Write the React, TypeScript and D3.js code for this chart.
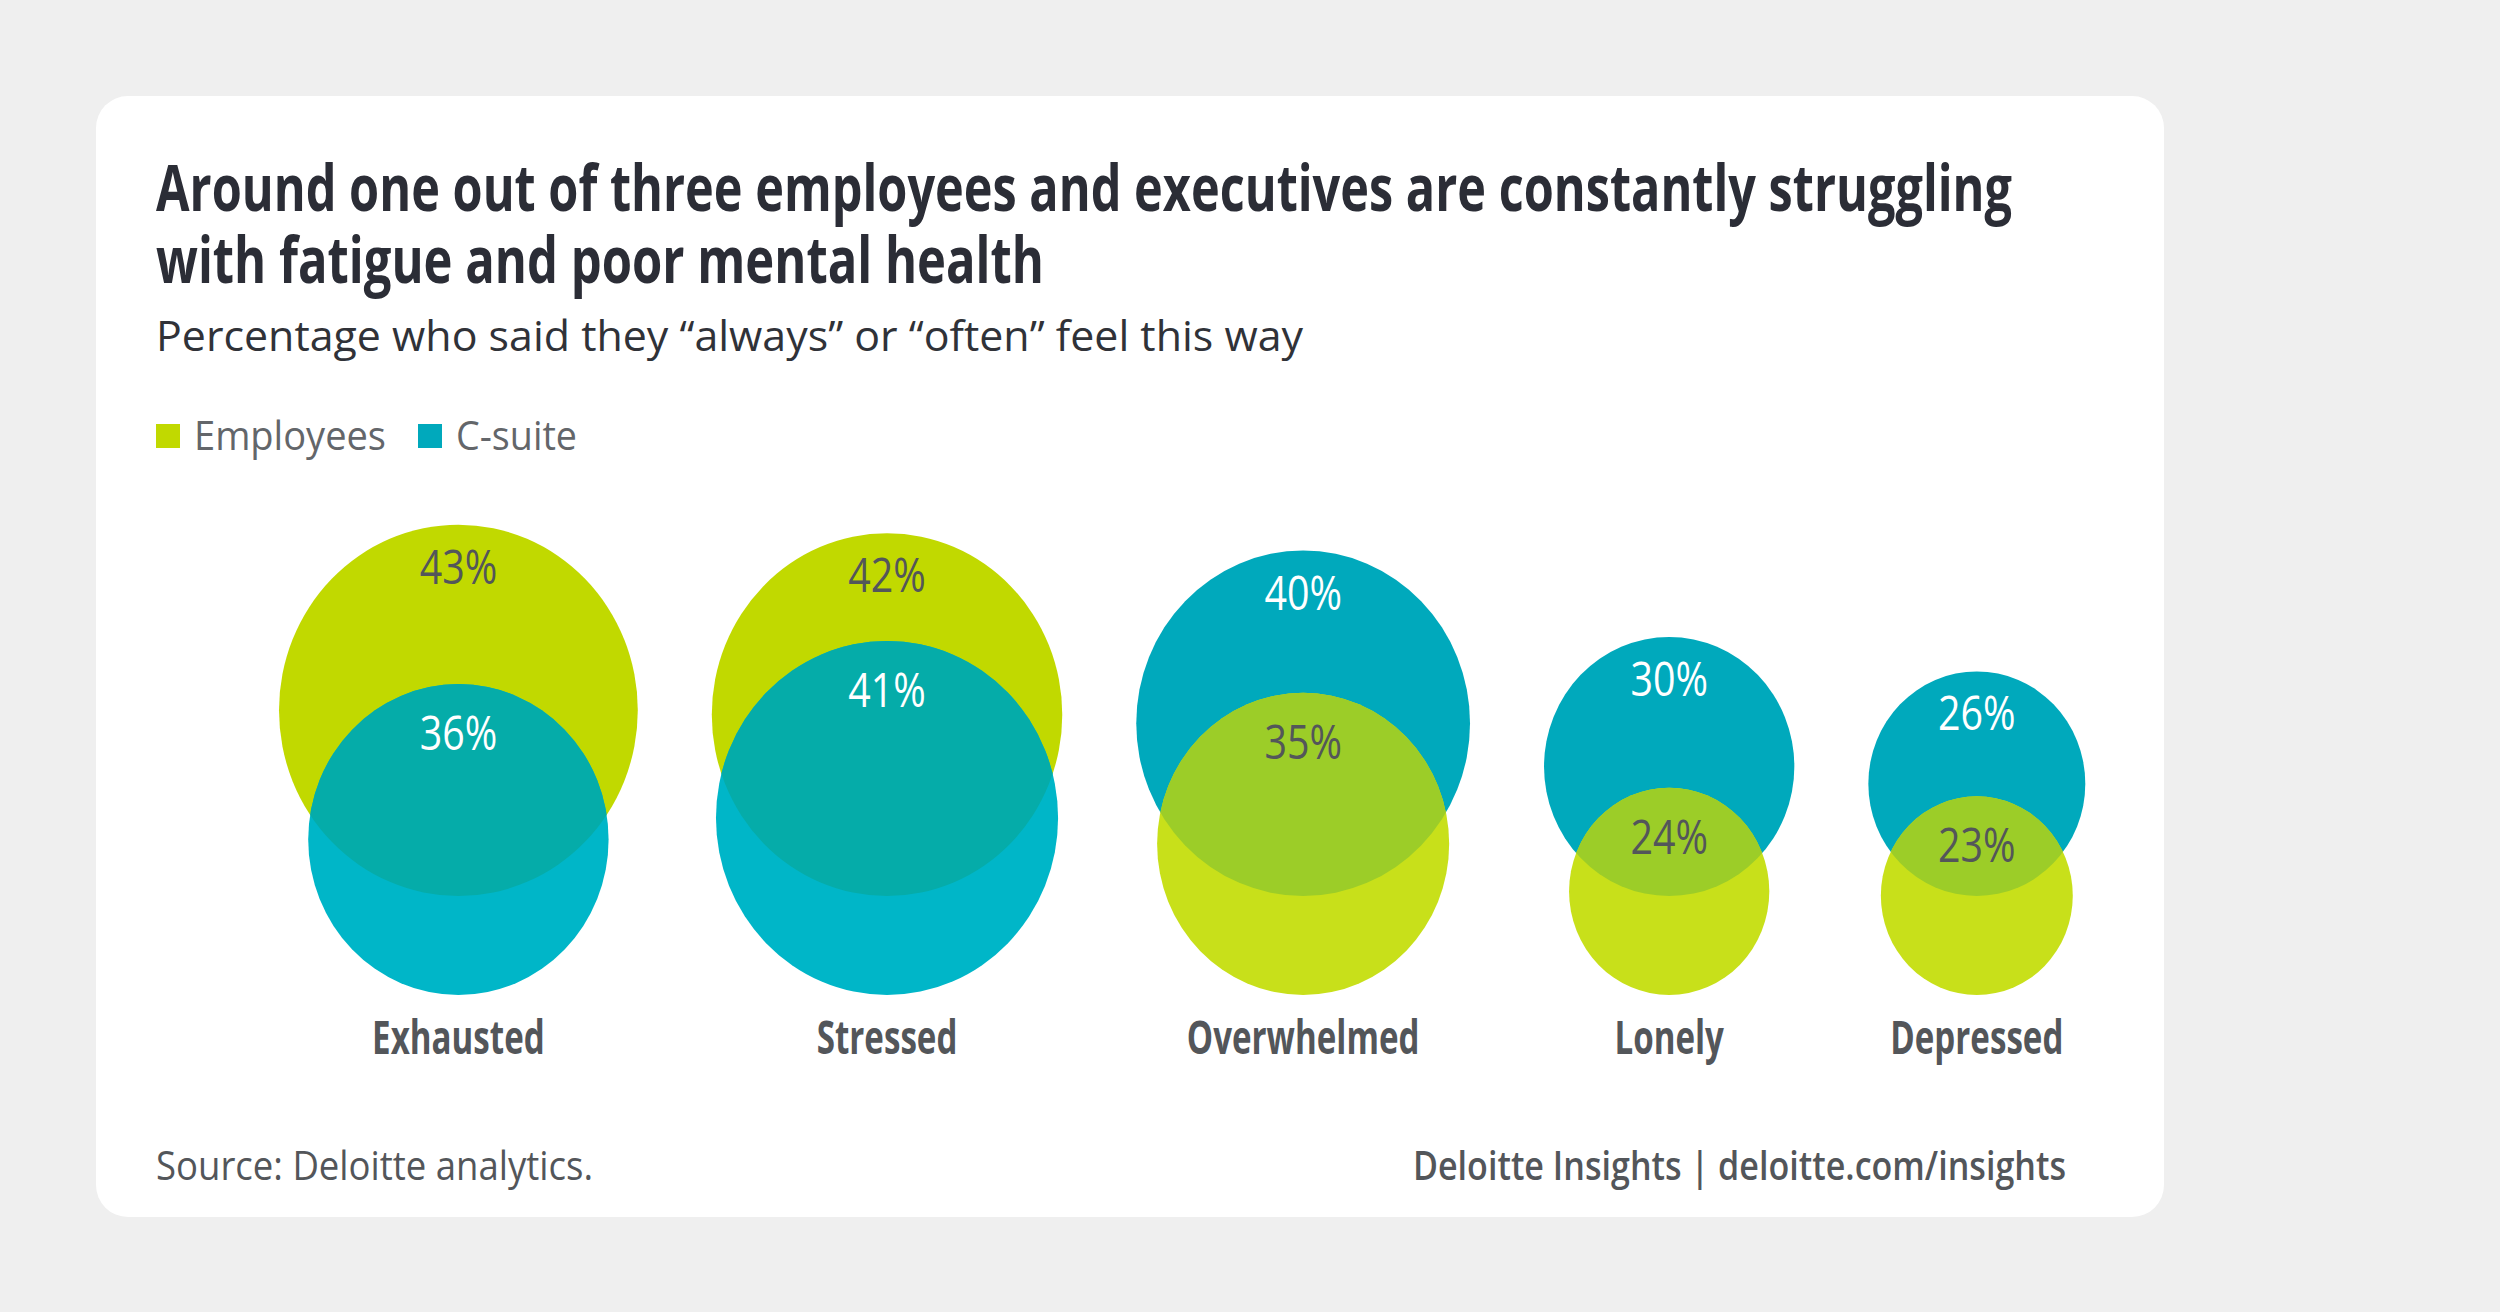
import React from 'react';
import * as d3 from 'd3';

// Data
const categories = ['Exhausted', 'Stressed', 'Overwhelmed', 'Lonely', 'Depressed'];
const employees = [43, 42, 35, 24, 23];
const csuite = [36, 41, 40, 30, 26];
const seriesNames = ['Employees', 'C-suite'];

const W = 2500;
const H = 1312;
const FONT = '"Open Sans", "Noto Sans", sans-serif';

const colors = {
  emp: { top: '#c1d900', bottom: '#c8e01a', legend: '#c1d900' },
  cs: { top: '#00a9bc', bottom: '#00b6c8', legend: '#00a9bc' },
  overlapCsOverEmp: '#05aca9',
  overlapEmpOverCs: '#9ccd28',
};

const textDark = '#2b2d36';
const textGrey = '#53565a';

export default function App() {
  const maxVal = d3.max([...employees, ...csuite]) as number;
  const r = d3.scaleLinear().domain([0, maxVal]).range([0, 179.4]);
  const yStretch = 1.035;
  const startX = 279;
  const gap = 74;
  const topBottomY = 896; // bottom edge of the upper bubble
  const lowBottomY = 995; // bottom edge of the lower bubble

  // lay out pairs left to right with a constant gap between them
  let cursor = startX;
  const pairs = categories.map((cat, i) => {
    const e = employees[i];
    const c = csuite[i];
    const empOnTop = e >= c;
    const rMax = r(Math.max(e, c));
    const cx = cursor + rMax;
    cursor = cx + rMax + gap;
    const top = empOnTop
      ? { key: 'emp', v: e, fill: colors.emp.top, label: textGrey }
      : { key: 'cs', v: c, fill: colors.cs.top, label: '#ffffff' };
    const bot = empOnTop
      ? { key: 'cs', v: c, fill: colors.cs.bottom, label: '#ffffff' }
      : { key: 'emp', v: e, fill: colors.emp.bottom, label: textGrey };
    const rxT = r(top.v), ryT = rxT * yStretch;
    const rxB = r(bot.v), ryB = rxB * yStretch;
    return {
      cat, i, cx, top, bot,
      rxT, ryT, cyT: topBottomY - ryT,
      rxB, ryB, cyB: lowBottomY - ryB,
      overlap: empOnTop ? colors.overlapCsOverEmp : colors.overlapEmpOverCs,
    };
  });

  return (
    <div style={{ position: 'absolute', left: 0, top: 0, width: W, height: H }}>
      <svg width={W} height={H} style={{ display: 'block' }} fontFamily={FONT}>
        <rect x={0} y={0} width={W} height={H} fill="#efefef" />
        <rect x={96} y={96} width={2068} height={1121} rx={32} ry={32} fill="#ffffff" />

        {/* Title */}
        <text x={156} y={211} fontSize={64} fontWeight={700} fill={textDark}
          textLength={1856} lengthAdjust="spacingAndGlyphs">
          Around one out of three employees and executives are constantly struggling
        </text>
        <text x={156} y={283} fontSize={64} fontWeight={700} fill={textDark}
          textLength={888} lengthAdjust="spacingAndGlyphs">
          with fatigue and poor mental health
        </text>
        <text x={156} y={351} fontSize={42} fill="#303238"
          textLength={1147} lengthAdjust="spacingAndGlyphs">
          Percentage who said they “always” or “often” feel this way
        </text>

        {/* Legend */}
        <rect x={156} y={424} width={24} height={24} fill={colors.emp.legend} />
        <text x={194} y={450} fontSize={40} fill="#63666a" textLength={192} lengthAdjust="spacingAndGlyphs">
          {seriesNames[0]}
        </text>
        <rect x={418} y={424} width={24} height={24} fill={colors.cs.legend} />
        <text x={456} y={450} fontSize={40} fill="#63666a" textLength={121} lengthAdjust="spacingAndGlyphs">
          {seriesNames[1]}
        </text>

        <defs>
          {pairs.map(p => (
            <clipPath id={`clip-top-${p.i}`} key={p.i}>
              <ellipse cx={p.cx} cy={p.cyT} rx={p.rxT} ry={p.ryT} />
            </clipPath>
          ))}
        </defs>

        {pairs.map(p => (
          <g key={p.cat}>
            <ellipse cx={p.cx} cy={p.cyT} rx={p.rxT} ry={p.ryT} fill={p.top.fill} />
            <ellipse cx={p.cx} cy={p.cyB} rx={p.rxB} ry={p.ryB} fill={p.bot.fill} />
            <ellipse cx={p.cx} cy={p.cyB} rx={p.rxB} ry={p.ryB} fill={p.overlap}
              clipPath={`url(#clip-top-${p.i})`} />

            <g transform={`translate(${p.cx},${p.cyT - p.ryT + 59}) scale(0.82,1)`}>
              <text textAnchor="middle" fontSize={48} fill={p.top.label}>{`${p.top.v}%`}</text>
            </g>
            <g transform={`translate(${p.cx},${p.cyB - p.ryB + 66}) scale(0.82,1)`}>
              <text textAnchor="middle" fontSize={48} fill={p.bot.label}>{`${p.bot.v}%`}</text>
            </g>

            <g transform={`translate(${p.cx},1054) scale(0.72,1)`}>
              <text textAnchor="middle" fontSize={46} fontWeight={700} fill={textGrey}>{p.cat}</text>
            </g>
          </g>
        ))}

        {/* Footer */}
        <text x={156} y={1180} fontSize={40} fill={textGrey} textLength={437} lengthAdjust="spacingAndGlyphs">
          Source: Deloitte analytics.
        </text>
        <text x={2066} y={1180} fontSize={40} fontWeight={600} fill={textGrey} textAnchor="end"
          textLength={653} lengthAdjust="spacingAndGlyphs">
          Deloitte Insights | deloitte.com/insights
        </text>
      </svg>
    </div>
  );
}
